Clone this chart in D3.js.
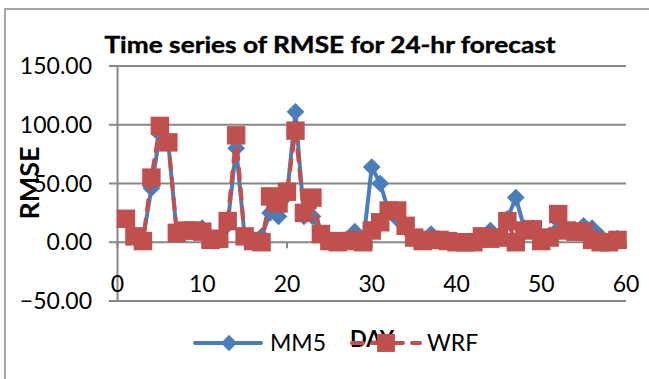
<!DOCTYPE html>
<html>
<head>
<meta charset="utf-8">
<script src="https://cdn.jsdelivr.net/npm/d3@7"></script>
<style>
  body { margin: 0; background: #fff; }
  text { font-family: Lato, "Open Sans", sans-serif; fill: #000; }
</style>
</head>
<body>
<script>
// Data
const days = d3.range(1, 60);
const mm5 = [20, 5, 2, 46, 92, 84, 7, 10, 10, 12, 2, 3, 15, 80, 5, 1, 5, 25, 22, 40,
  111, 22, 22, 7, 0, 1, 1, 9, 0, 64, 50, 26, 20, 12, 3, 2, 7, 2, 1, 0,
  0, 1, 5, 10, 5, 20, 38, 12, 12, 3, 6, 18, 10, 10, 14, 12, 5, 1, 3];
const wrf = [20, 5, 1, 55, 99, 85, 8, 10, 10, 9, 2, 3, 18, 91, 5, 1, 0, 39, 33, 43,
  95, 25, 38, 7, 1, 0, 1, 2, 0, 10, 17, 27, 27, 14, 4, 1, 2, 2, 1, 0,
  0, 0, 5, 3, 4, 18, 0, 10, 11, 1, 4, 24, 10, 9, 9, 2, 0, 0, 2];
const yTicks = [-50, 0, 50, 100, 150];
const xTicks = [0, 10, 20, 30, 40, 50, 60];

const W = 649, H = 379;
const blue = "#4A7EBB", red = "#C0504D", grid = "#878787";

const svg = d3.select("body").append("svg")
  .attr("width", W)
  .attr("height", H);

// chart border
svg.append("path")
  .attr("d", "M5,380 V9 H650")
  .attr("fill", "none")
  .attr("stroke", "#a6a6a6")
  .attr("stroke-width", 2);

const x = d3.scaleLinear().domain([0, 60]).range([117.5, 626]);
const y = d3.scaleLinear().domain([-50, 150]).range([301, 66]);

// gridlines + y tick labels
svg.append("g")
  .selectAll("line")
  .data(yTicks)
  .join("line")
  .attr("x1", 109)
  .attr("x2", x(60))
  .attr("y1", d => y(d))
  .attr("y2", d => y(d))
  .attr("stroke", grid)
  .attr("stroke-width", 2);

svg.append("g")
  .selectAll("text")
  .data(yTicks)
  .join("text")
  .attr("x", 92)
  .attr("y", d => y(d) + 8)
  .attr("text-anchor", "end")
  .style("font-size", "23px")
  .text(d => d3.format(".2f")(d));

// vertical axis
svg.append("line")
  .attr("x1", x(0)).attr("x2", x(0))
  .attr("y1", y(150)).attr("y2", y(-50))
  .attr("stroke", grid)
  .attr("stroke-width", 2);

// horizontal axis ticks on the zero line
svg.append("g")
  .selectAll("line")
  .data(xTicks)
  .join("line")
  .attr("x1", d => x(d)).attr("x2", d => x(d))
  .attr("y1", y(0)).attr("y2", y(0) + 6)
  .attr("stroke", grid)
  .attr("stroke-width", 2);

svg.append("g")
  .selectAll("text")
  .data(xTicks)
  .join("text")
  .attr("x", d => x(d))
  .attr("y", 292)
  .attr("text-anchor", "middle")
  .style("font-size", "23px")
  .text(d => d);

// title and axis titles
svg.append("text")
  .attr("x", 330)
  .attr("y", 53)
  .attr("text-anchor", "middle")
  .style("font-size", "22px")
  .style("font-weight", "bold")
  .style("stroke", "#000")
  .style("stroke-width", 0.4)
  .attr("textLength", 451)
  .attr("lengthAdjust", "spacingAndGlyphs")
  .text("Time series of RMSE for 24-hr forecast");

svg.append("text")
  .attr("transform", "translate(39,183) rotate(-90)")
  .attr("text-anchor", "middle")
  .style("font-size", "27px")
  .style("font-weight", "bold")
  .text("RMSE");

svg.append("text")
  .attr("x", 372)
  .attr("y", 347)
  .attr("text-anchor", "middle")
  .style("font-size", "22px")
  .style("font-weight", "bold")
  .text("DAY");

// series
const line = d3.line()
  .x((d, i) => x(days[i]))
  .y(d => y(d));

const diamond = d3.symbol().type(d3.symbolDiamond2).size(200);
const square = d3.symbol().type(d3.symbolSquare).size(340);

svg.append("path")
  .datum(mm5)
  .attr("d", line)
  .attr("fill", "none")
  .attr("stroke", blue)
  .attr("stroke-width", 4)
  .attr("stroke-linejoin", "round");

svg.append("g")
  .selectAll("path")
  .data(mm5)
  .join("path")
  .attr("transform", (d, i) => `translate(${x(days[i])},${y(d)})`)
  .attr("d", diamond)
  .attr("fill", blue);

svg.append("path")
  .datum(wrf)
  .attr("d", line)
  .attr("fill", "none")
  .attr("stroke", red)
  .attr("stroke-width", 4)
  .attr("stroke-linecap", "round")
  .attr("stroke-dasharray", "11,9");

svg.append("g")
  .selectAll("path")
  .data(wrf)
  .join("path")
  .attr("transform", (d, i) => `translate(${x(days[i])},${y(d)})`)
  .attr("d", square)
  .attr("fill", red);

// legend
const lg = svg.append("g");
lg.append("line")
  .attr("x1", 195).attr("x2", 261)
  .attr("y1", 343).attr("y2", 343)
  .attr("stroke", blue)
  .attr("stroke-width", 4)
  .attr("stroke-linecap", "round");
lg.append("path")
  .attr("transform", "translate(229,343)")
  .attr("d", d3.symbol().type(d3.symbolDiamond2).size(170))
  .attr("fill", blue);
lg.append("text")
  .attr("x", 270).attr("y", 351)
  .style("font-size", "23px")
  .text("MM5");

lg.append("line")
  .attr("x1", 352).attr("x2", 420)
  .attr("y1", 343).attr("y2", 343)
  .attr("stroke", red)
  .attr("stroke-width", 4)
  .attr("stroke-linecap", "round")
  .attr("stroke-dasharray", "11,9");
lg.append("path")
  .attr("transform", "translate(386,343)")
  .attr("d", d3.symbol().type(d3.symbolSquare).size(320))
  .attr("fill", red);
lg.append("text")
  .attr("x", 427).attr("y", 351)
  .style("font-size", "23px")
  .text("WRF");
</script>
</body>
</html>
